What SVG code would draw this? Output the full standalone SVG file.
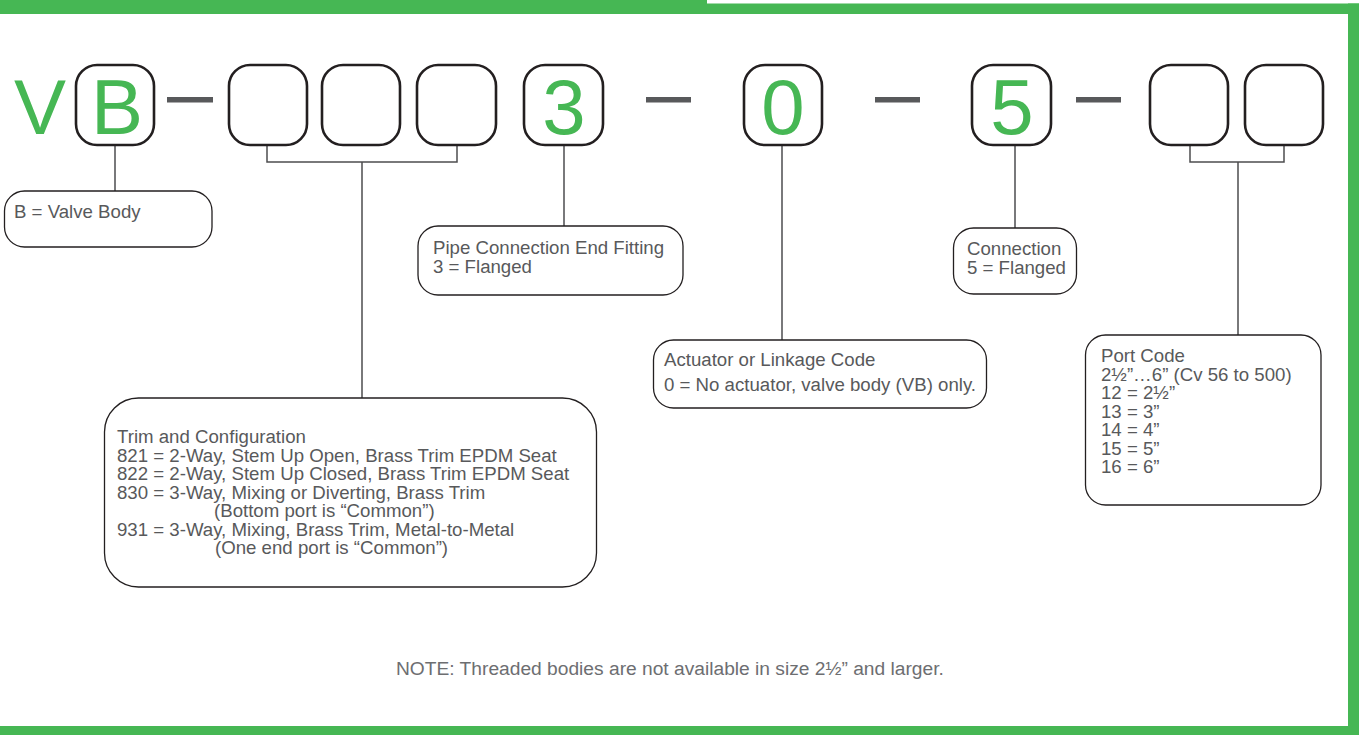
<svg xmlns="http://www.w3.org/2000/svg" width="1359" height="735" viewBox="0 0 1359 735">
<style>
.frame{fill:#46b754}
.code{fill:#fff;stroke:#231f20;stroke-width:2.6}
.big{font-family:"Liberation Sans",Arial,sans-serif;font-size:78px;fill:#46b754}
.dash{fill:#58595b}
.callout{fill:#fff;stroke:#231f20;stroke-width:1.3}
.lbl{font-family:"Liberation Sans",Arial,sans-serif;font-size:18.65px;fill:#58595b}
.note{font-family:"Liberation Sans",Arial,sans-serif;font-size:19.2px;fill:#6d6e71}
.conn{fill:none;stroke:#4d4d4f;stroke-width:1.5}
</style>
<rect width="1359" height="735" fill="#fff"/>
<g id="frame">
<rect class="frame" x="0" y="0" width="707" height="14"/>
<rect class="frame" x="700" y="3.5" width="659" height="10.5"/>
<rect class="frame" x="1348" y="3.5" width="11" height="731.5"/>
<rect class="frame" x="0" y="726" width="1359" height="9"/>
</g>
<g id="connectors">
<path class="conn" d="M115 145V191"/>
<path class="conn" d="M267 145V162H457V145M362 162V398"/>
<path class="conn" d="M564 145V226"/>
<path class="conn" d="M782 145V340"/>
<path class="conn" d="M1015 145V228"/>
<path class="conn" d="M1190 145V162H1284V145M1238 162V335"/>
</g>
<g id="code">
<text class="big" x="14" y="134">V</text>
<g id="box-B"><rect class="code" x="76" y="65" width="78" height="80" rx="21"/><text class="big" x="117" y="134" text-anchor="middle">B</text></g>
<rect class="dash" x="167" y="97" width="46" height="5.5"/>
<g id="box-t1"><rect class="code" x="229" y="65" width="78" height="80" rx="21"/></g>
<g id="box-t2"><rect class="code" x="322" y="65" width="78" height="80" rx="21"/></g>
<g id="box-t3"><rect class="code" x="417" y="65" width="79" height="80" rx="21"/></g>
<g id="box-3"><rect class="code" x="524" y="65" width="79" height="80" rx="21"/><text class="big" x="564" y="134" text-anchor="middle">3</text></g>
<rect class="dash" x="646" y="97" width="45" height="5.5"/>
<g id="box-0"><rect class="code" x="744" y="65" width="78" height="80" rx="21"/><text class="big" x="783" y="134" text-anchor="middle">0</text></g>
<rect class="dash" x="875" y="97" width="45" height="5.5"/>
<g id="box-5"><rect class="code" x="972" y="65" width="79" height="80" rx="21"/><text class="big" x="1012" y="134" text-anchor="middle">5</text></g>
<rect class="dash" x="1076" y="97" width="45" height="5.5"/>
<g id="box-p1"><rect class="code" x="1150" y="65" width="78" height="80" rx="21"/></g>
<g id="box-p2"><rect class="code" x="1245" y="65" width="78" height="80" rx="21"/></g>
</g>
<g id="valve-body">
<rect class="callout" x="4.5" y="191" width="207.5" height="56" rx="20"/>
<text class="lbl" x="14" y="218">B = Valve Body</text>
</g>
<g id="pipe-connection">
<rect class="callout" x="418" y="226" width="265" height="69" rx="20"/>
<text class="lbl" x="433" y="254">Pipe Connection End Fitting</text>
<text class="lbl" x="433" y="273">3 = Flanged</text>
</g>
<g id="connection">
<rect class="callout" x="953.5" y="228" width="123" height="66" rx="20"/>
<text class="lbl" x="967" y="254.5">Connection</text>
<text class="lbl" x="967" y="273.5">5 = Flanged</text>
</g>
<g id="actuator">
<rect class="callout" x="653.5" y="340" width="333" height="68" rx="20"/>
<text class="lbl" x="664" y="366">Actuator or Linkage Code</text>
<text class="lbl" x="664" y="391">0 = No actuator, valve body (VB) only.</text>
</g>
<g id="port-code">
<rect class="callout" x="1085.5" y="335" width="235.5" height="170" rx="20"/>
<text class="lbl" x="1101" y="362">Port Code</text>
<text class="lbl" x="1101" y="380.5">2½”…6” (Cv 56 to 500)</text>
<text class="lbl" x="1101" y="399">12 = 2½”</text>
<text class="lbl" x="1101" y="417.5">13 = 3”</text>
<text class="lbl" x="1101" y="436">14 = 4”</text>
<text class="lbl" x="1101" y="454.5">15 = 5”</text>
<text class="lbl" x="1101" y="473">16 = 6”</text>
</g>
<g id="trim">
<rect class="callout" x="104.5" y="398" width="492" height="189" rx="34"/>
<text class="lbl" x="117" y="443">Trim and Configuration</text>
<text class="lbl" x="117" y="461.5">821 = 2-Way, Stem Up Open, Brass Trim EPDM Seat</text>
<text class="lbl" x="117" y="480">822 = 2-Way, Stem Up Closed, Brass Trim EPDM Seat</text>
<text class="lbl" x="117" y="498.5">830 = 3-Way, Mixing or Diverting, Brass Trim</text>
<text class="lbl" x="214" y="517">(Bottom port is “Common”)</text>
<text class="lbl" x="117" y="535.5">931 = 3-Way, Mixing, Brass Trim, Metal-to-Metal</text>
<text class="lbl" x="215" y="554">(One end port is “Common”)</text>
</g>
<text class="note" x="396" y="675">NOTE: Threaded bodies are not available in size 2½” and larger.</text>
</svg>
